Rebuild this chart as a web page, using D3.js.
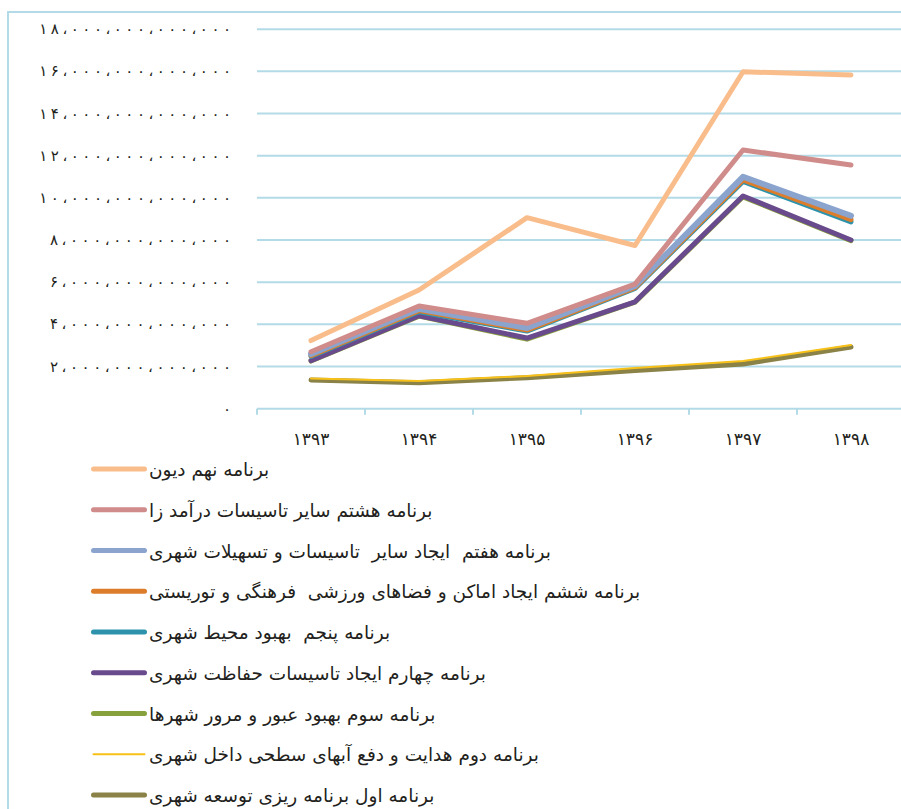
<!DOCTYPE html>
<html lang="fa">
<head>
    <meta charset="UTF-8">
    <title>برنامه ها</title>
    <script src="https://cdn.jsdelivr.net/npm/d3@7"></script>
    <style>
        body { margin: 0; background: #fff; }
        text { font-family: "DejaVu Sans", sans-serif; fill: #231f20; }
        .legend text { white-space: pre; }
    </style>
</head>
<body>
<script>
    const width = 901, height = 809;

    // data
    const years = ["۱۳۹۳", "۱۳۹۴", "۱۳۹۵", "۱۳۹۶", "۱۳۹۷", "۱۳۹۸"];

    const seriesNames = [
        "برنامه نهم دیون",
        "برنامه هشتم سایر تاسیسات درآمد زا",
        "برنامه هفتم  ایجاد سایر  تاسیسات و تسهیلات شهری",
        "برنامه ششم ایجاد اماکن و فضاهای ورزشی  فرهنگی و توریستی",
        "برنامه پنجم  بهبود محیط شهری",
        "برنامه چهارم ایجاد تاسیسات حفاظت شهری",
        "برنامه سوم بهبود عبور و مرور شهرها",
        "برنامه دوم هدایت و دفع آبهای سطحی داخل شهری",
        "برنامه اول برنامه ریزی توسعه شهری"
    ];

    const nohom    = [3.23e12, 5.63e12, 9.06e12, 7.74e12, 15.98e12, 15.83e12];
    const hashtom  = [2.70e12, 4.87e12, 4.05e12, 5.91e12, 12.27e12, 11.56e12];
    const haftom   = [2.59e12, 4.74e12, 3.83e12, 5.82e12, 11.00e12, 9.15e12];
    const sheshom  = [2.52e12, 4.65e12, 3.73e12, 5.74e12, 10.85e12, 8.97e12];
    const panjom   = [2.48e12, 4.60e12, 3.68e12, 5.70e12, 10.78e12, 8.86e12];
    const chaharom = [2.28e12, 4.41e12, 3.35e12, 5.07e12, 10.09e12, 8.00e12];
    const sevom    = [2.26e12, 4.39e12, 3.30e12, 5.05e12, 10.05e12, 7.97e12];
    const dovom    = [1.43e12, 1.31e12, 1.55e12, 1.93e12, 2.26e12, 3.02e12];
    const aval     = [1.36e12, 1.23e12, 1.47e12, 1.81e12, 2.12e12, 2.93e12];

    const seriesValues = [nohom, hashtom, haftom, sheshom, panjom, chaharom, sevom, dovom, aval];

    const colors = ["#f9bd8b", "#d08c8b", "#8aa4ce", "#dc7d2b", "#2d93ac", "#694a8c", "#87a23c", "#f7c11a", "#8a8246"];
    const strokeW = [5, 5, 6, 5, 5, 5, 5, 2, 5];

    const gridColor = "#b3dbe7";

    const svg = d3.select("body")
                  .append("svg")
                  .attr("width", width)
                  .attr("height", height);

    // outer frame (runs off the right and bottom edges)
    svg.append("rect")
       .attr("x", 8).attr("y", 12)
       .attr("width", 1000).attr("height", 1000)
       .attr("fill", "none")
       .attr("stroke", gridColor)
       .attr("stroke-width", 2);

    const x = d3.scaleBand().domain(years).range([257, 905]);
    const y = d3.scaleLinear().domain([0, 18e12]).range([408.7, 29.2]);
    const cx = d => x(d) + x.bandwidth() / 2;

    const toFa = s => s.replace(/\d/g, c => "۰۱۲۳۴۵۶۷۸۹"[+c]).replace(/,/g, "،");
    const fmt = d3.format(",.0f");

    // gridlines
    svg.append("g")
       .selectAll("line")
       .data(y.ticks(9).filter(d => d > 0))
       .join("line")
       .attr("x1", 257).attr("x2", width)
       .attr("y1", d => y(d)).attr("y2", d => y(d))
       .attr("stroke", gridColor)
       .attr("stroke-width", 2);

    // y labels
    svg.append("g")
       .selectAll("text")
       .data(y.ticks(9))
       .join("text")
       .attr("x", 231)
       .attr("y", d => y(d) + 5)
       .attr("text-anchor", "end")
       .attr("font-size", 15)
       .each(function(d) {
           const s = toFa(fmt(d));
           const t = d3.select(this).text(s);
           if (s.length > 1) t.attr("textLength", s.length * 10.65).attr("lengthAdjust", "spacing");
       });

    // x axis
    const xAxis = svg.append("g");
    xAxis.append("line")
         .attr("x1", 257).attr("x2", 905)
         .attr("y1", y(0)).attr("y2", y(0))
         .attr("stroke", gridColor).attr("stroke-width", 2);
    xAxis.selectAll("line.tick")
         .data(years.map(d => x(d)).concat([x.range()[1]]))
         .join("line").attr("class", "tick")
         .attr("x1", d => d).attr("x2", d => d)
         .attr("y1", y(0)).attr("y2", y(0) + 6)
         .attr("stroke", gridColor).attr("stroke-width", 2);
    xAxis.selectAll("text")
         .data(years)
         .join("text")
         .attr("x", cx)
         .attr("y", 445)
         .attr("text-anchor", "middle")
         .attr("font-size", 17)
         .text(d => d);

    // lines, first programme drawn first
    const line = d3.line()
                   .x((d, i) => cx(years[i]))
                   .y(d => y(d));

    const order = d3.range(seriesNames.length).reverse();
    svg.append("g")
       .selectAll("path")
       .data(order)
       .join("path")
       .attr("d", i => line(seriesValues[i]))
       .attr("fill", "none")
       .attr("stroke", i => colors[i])
       .attr("stroke-width", i => strokeW[i])
       .attr("stroke-linecap", "round")
       .attr("stroke-linejoin", "round");

    // legend
    const legend = svg.append("g").attr("class", "legend")
                      .selectAll("g")
                      .data(seriesNames)
                      .join("g")
                      .attr("transform", (d, i) => `translate(0,${469 + i * 40.75})`);

    legend.append("line")
          .attr("x1", 93.5).attr("x2", 144.5)
          .attr("stroke", (d, i) => colors[i])
          .attr("stroke-width", (d, i) => Math.min(strokeW[i], 5))
          .attr("stroke-linecap", "round");

    legend.append("text")
          .attr("x", 149)
          .attr("y", 7)
          .attr("font-size", 18.5)
          .text(d => d);
</script>
</body>
</html>
